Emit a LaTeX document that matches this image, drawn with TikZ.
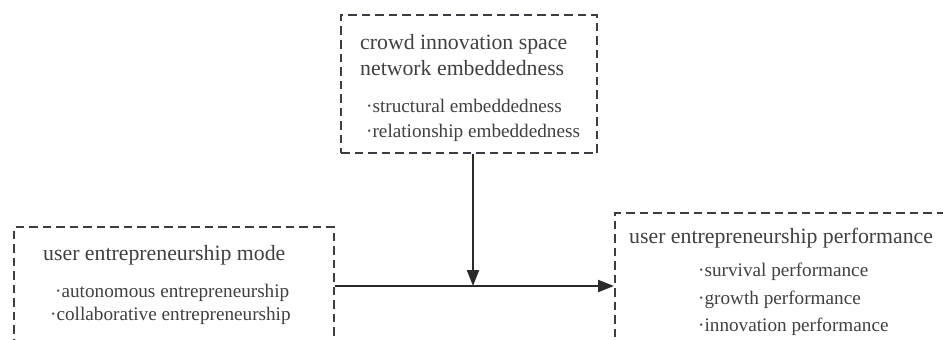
\documentclass[tikz,border=0pt]{standalone}
\usepackage{fontspec}
\setmainfont{Liberation Serif}
\usetikzlibrary{arrows.meta}
\definecolor{boxc}{HTML}{3A3D42}
\definecolor{txtc}{HTML}{404040}
\definecolor{arrc}{HTML}{2A2A2A}
\begin{document}
\begin{tikzpicture}[x=1pt,y=-1pt,
  box/.style={draw=boxc, line width=2pt, dash pattern=on 8.5pt off 5pt, rectangle, inner sep=0pt},
  ttl/.style={font=\fontsize{21.8}{26}\selectfont, text=txtc, anchor=base west, inner sep=0pt},
  itm/.style={font=\fontsize{19.2}{23}\selectfont, text=txtc, anchor=base west, inner sep=0pt},
  arr/.style={draw=arrc, line width=2pt, -{Triangle[length=16pt,width=12pt]}}]
\useasboundingbox (0,0) rectangle (943,340);
\clip (0,0) rectangle (943,340);
% boxes
\node[box, minimum width=256pt, minimum height=138pt] (top) at (469,84) {};
\node[box, minimum width=320pt, minimum height=153pt] (left) at (174,303.5) {};
\node[box, minimum width=365pt, minimum height=167pt] (right) at (797.5,296.5) {};
% top texts
\node[ttl] (t1) at (360,49) {crowd innovation space};
\node[ttl] (t2) at (360,75) {network embeddedness};
\node[itm] (t3) at (366,112) {·structural embeddedness};
\node[itm] (t4) at (366,137) {·relationship embeddedness};
% left texts
\node[ttl] (l1) at (43,260) {user entrepreneurship mode};
\node[itm] (l2) at (55,297) {·autonomous entrepreneurship};
\node[itm] (l3) at (50,320) {·collaborative entrepreneurship};
% right texts
\node[ttl] (r1) at (629,243) {user entrepreneurship performance};
\node[itm] (r2) at (698,276) {·survival performance};
\node[itm] (r3) at (698,304) {·growth performance};
\node[itm] (r4) at (698,331) {·innovation performance};
% connectors
\coordinate (j) at (473,286);
\draw[arr] (left.east |- j) -- (right.west |- j);
\draw[arr] (top.south -| j) -- (j);
\end{tikzpicture}
\end{document}
